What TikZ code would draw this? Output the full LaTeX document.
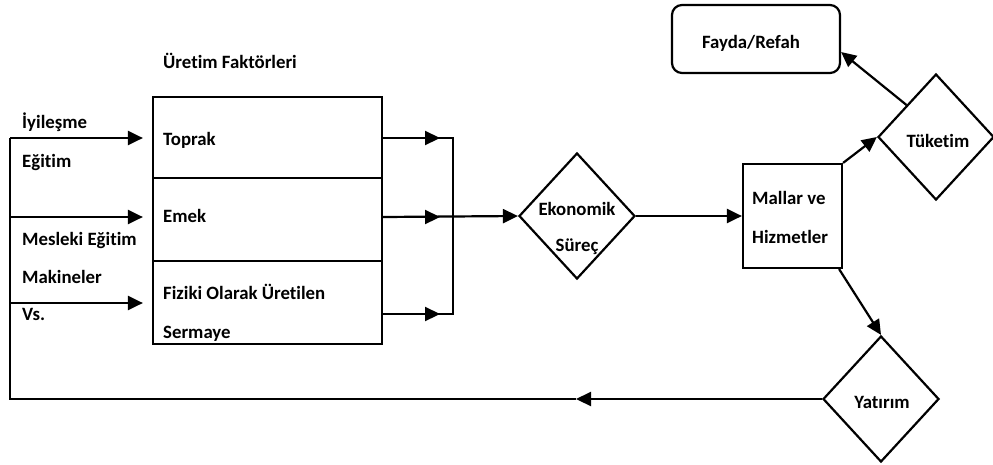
\documentclass[tikz,border=0pt]{standalone}
\usepackage{fontspec}
\setmainfont{Carlito}[BoldFont={Carlito Bold},Ligatures=NoCommon]
\usetikzlibrary{arrows.meta,shapes.geometric,calc}
\begin{document}
\begin{tikzpicture}[x=1pt,y=-1pt,
  every node/.style={font=\fontsize{18.8}{22}\selectfont\bfseries},
  ln/.style={line width=2.2pt},
  arr/.style={line width=2.2pt,-{Triangle[length=15pt,width=14pt]}},
  fbox/.style={draw,line width=2.2pt,minimum width=229pt,inner sep=0pt},
  dia/.style={draw,diamond,line width=2.2pt,minimum width=116pt,minimum height=126pt,inner sep=0pt},
  tx/.style={anchor=base west,inner sep=0pt},
  tc/.style={anchor=base,inner sep=0pt}]
\useasboundingbox (0,0) rectangle (993,464);
% shapes
\node[fbox,minimum height=81pt] (toprak) at (267.5,137.5) {};
\node[fbox,minimum height=83pt] (emek) at (267.5,219.5) {};
\node[fbox,minimum height=83pt] (sermaye) at (267.5,302.5) {};
\node[dia] (eko) at (577,216) {};
\node[draw,line width=2.2pt,minimum width=99pt,minimum height=104pt,inner sep=0pt] (mallar) at (792.5,216) {};
\node[dia] (tuk) at (936,137) {};
\node[dia] (yat) at (881,399) {};
\node[draw,line width=2.2pt,rounded corners=10pt,minimum width=168pt,minimum height=68pt,inner sep=0pt] (fayda) at (756,39) {};
% texts
\node[tx] (t-uretim) at (163,68) {Üretim Faktörleri};
\node[tx] (t-toprak) at (163,145) {Toprak};
\node[tx] (t-emek) at (163,222) {Emek};
\node[tx] (t-fiziki) at (163,299) {Fiziki Olarak Üretilen};
\node[tx] (t-sermaye) at (163,338) {Sermaye};
\node[tx] (t-iyi) at (22,128) {İyileşme};
\node[tx] (t-egitim) at (22,167) {Eğitim};
\node[tx] (t-mesleki) at (22,245) {Mesleki Eğitim};
\node[tx] (t-makine) at (22,283) {Makineler};
\node[tx] (t-vs) at (22,320) {Vs.};
\node[tc] (t-eko) at (577,215) {Ekonomik};
\node[tc] (t-surec) at (577,251) {Süreç};
\node[tx] (t-mallar) at (752,204) {Mallar ve};
\node[tx] (t-hizmet) at (752,243) {Hizmetler};
\node[tc] (t-fayda) at (751,48) {Fayda/Refah};
\node[tc] (t-tuk) at (938,147) {Tüketim};
\node[tc] (t-yat) at (882,408) {Yatırım};
% coordinates
\coordinate (c1) at (10,138);
\coordinate (c2) at (10,217);
\coordinate (c3) at (10,303);
\coordinate (c4) at (10,399);
\coordinate (fbm) at (576,399);
\coordinate (a1) at (440,138);
\coordinate (a2) at (440,217);
\coordinate (a3) at (440,314);
\coordinate (r1) at (453,138);
\coordinate (r3) at (453,314);
% connectors
\draw[arr] (yat.west) -- (fbm);
\draw[ln] (fbm) -- (c4) -- (c1);
\draw[arr,shorten >=9pt] (c1) -- (c1 -| toprak.west);
\draw[arr,shorten >=9pt] (c2) -- (c2 -| emek.west);
\draw[arr,shorten >=9pt] (c3) -- (c3 -| sermaye.west);
\draw[ln] (a1 -| toprak.east) -- (r1) -- (r3) -- (a3 -| sermaye.east);
\draw[arr] (a1 -| toprak.east) -- (a1);
\draw[arr] (a3 -| sermaye.east) -- (a3);
\draw[arr] (a2 -| emek.east) -- (a2);
\draw[arr] (a2 -| emek.east) -- (eko.west);
\draw[arr] (eko.east) -- (mallar.west);
\draw[arr] (mallar.north east) -- (tuk.west);
\draw[arr] (tuk.north west) -- ($(fayda.east)+(0,13)$);
\draw[arr] ($(mallar.south east)+(-4,0)$) -- (yat.north);
\end{tikzpicture}
\end{document}
